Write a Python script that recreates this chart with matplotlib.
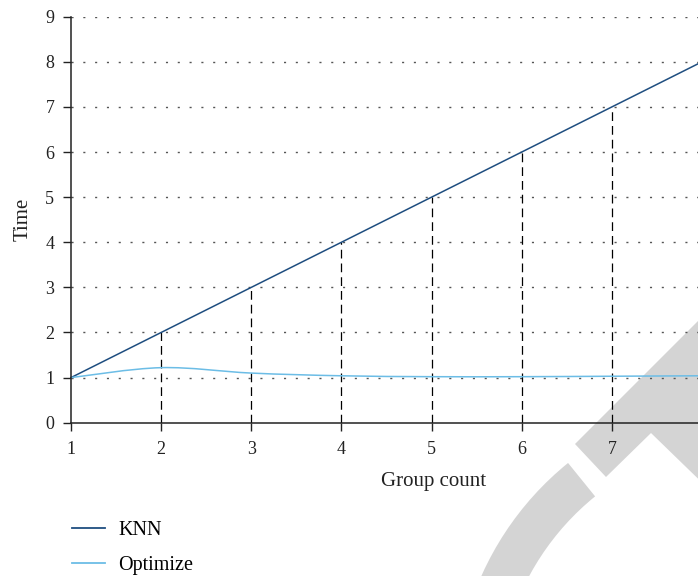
import matplotlib
matplotlib.use("Agg")
import matplotlib.pyplot as plt
from matplotlib.path import Path
from matplotlib.patches import PathPatch, Polygon, Wedge
from matplotlib.lines import Line2D
from matplotlib.transforms import IdentityTransform
import numpy as np

# ---- data ----
group_count = [1, 2, 3, 4, 5, 6, 7, 8]
knn_time = [1, 2, 3, 4, 5, 6, 7, 8]
optimize_time = [1.0, 1.22, 1.10, 1.04, 1.02, 1.02, 1.03, 1.04]
y_ticks = [0, 1, 2, 3, 4, 5, 6, 7, 8, 9]
x_ticks = [1, 2, 3, 4, 5, 6, 7]

KNN_COLOR = "#1f4e80"
OPT_COLOR = "#6cbde6"
TEXT_COLOR = "#222222"

plt.rcParams['font.family'] = ['Liberation Serif', 'DejaVu Serif']

W, H = 698, 576
fig = plt.figure(figsize=(W / 100, H / 100), dpi=100)

# decorative watermark behind everything (pixel coords, origin top-left)
def px(x, y):
    return (x / W, 1 - y / H)

band = Polygon([px(575, 444), px(720, 299), px(720, 500), px(651, 433), px(606, 477)],
               closed=True, transform=fig.transFigure, facecolor="#d4d4d4",
               edgecolor="none", zorder=-5)
fig.patches.append(band)
arc = Wedge((760, H - 700), 305, 129, 200, width=43,
            facecolor="#d4d4d4", edgecolor="none", zorder=-5)
arc.set_transform(IdentityTransform())
fig.patches.append(arc)

left = 71 / W
bottom = (H - 422.7) / H
width = (702 - 71) / W
height = 406 / H
ax = fig.add_axes([left, bottom, width, height])
ax.set_facecolor("none")
ax.set_zorder(1)

ax.set_xlim(1, 8)
ax.set_ylim(0, 9)

# dotted grid
for yv in y_ticks[1:]:
    ax.axhline(yv, color="#555555", lw=1.0, linestyle=(0, (1.5, 7)), zorder=1)

# dashed verticals
ax.vlines(group_count[1:-1], 0, knn_time[1:-1], colors="black", lw=0.9,
          linestyles=(0, (7, 4)), zorder=2)

# KNN line
ax.plot(group_count, knn_time, color=KNN_COLOR, lw=1.1, zorder=3, clip_on=False)

# smooth Optimize curve via Bezier (Catmull-Rom control points)
xs = np.array(group_count, dtype=float)
ys = np.array(optimize_time, dtype=float)
verts = [(xs[0], ys[0])]
codes = [Path.MOVETO]
n = len(xs)
for i in range(n - 1):
    p0 = (xs[i - 1], ys[i - 1]) if i > 0 else (xs[i], ys[i])
    p1 = (xs[i], ys[i])
    p2 = (xs[i + 1], ys[i + 1])
    p3 = (xs[i + 2], ys[i + 2]) if i + 2 < n else (xs[i + 1], ys[i + 1])
    c1 = (p1[0] + (p2[0] - p0[0]) / 6, p1[1] + (p2[1] - p0[1]) / 6)
    c2 = (p2[0] - (p3[0] - p1[0]) / 6, p2[1] - (p3[1] - p1[1]) / 6)
    verts += [c1, c2, p2]
    codes += [Path.CURVE4] * 3
ax.add_patch(PathPatch(Path(verts, codes), facecolor="none", edgecolor=OPT_COLOR,
                       lw=1.1, zorder=3))

# spines
for s in ["top", "right"]:
    ax.spines[s].set_visible(False)
for s in ["left", "bottom"]:
    ax.spines[s].set_linewidth(1.1)
    ax.spines[s].set_color(TEXT_COLOR)
    ax.spines[s].set_zorder(4)

ax.set_xticks(x_ticks)
ax.set_yticks(y_ticks)
ax.tick_params(direction="out", length=6, width=1.0, labelsize=13,
               colors=TEXT_COLOR)
ax.tick_params(axis="x", pad=7)
ax.tick_params(axis="y", pad=6)
ax.set_xlabel("Group count", fontsize=15, color=TEXT_COLOR)
ax.xaxis.set_label_coords((434 - 71) / 631, -(472 - 422.7) / 406)
ax.set_ylabel("Time", fontsize=15, color=TEXT_COLOR, labelpad=9)

handles = [Line2D([], [], color=KNN_COLOR, lw=1.3),
           Line2D([], [], color=OPT_COLOR, lw=1.3)]
fig.legend(handles, ["KNN", "Optimize"], loc="upper left",
           bbox_to_anchor=(72 / W, 1 - 521 / H), frameon=False, fontsize=14.5,
           borderpad=0, borderaxespad=0,
           handlelength=1.64, handletextpad=0.65, labelspacing=0.78)

fig.savefig("out.png", dpi=100)
